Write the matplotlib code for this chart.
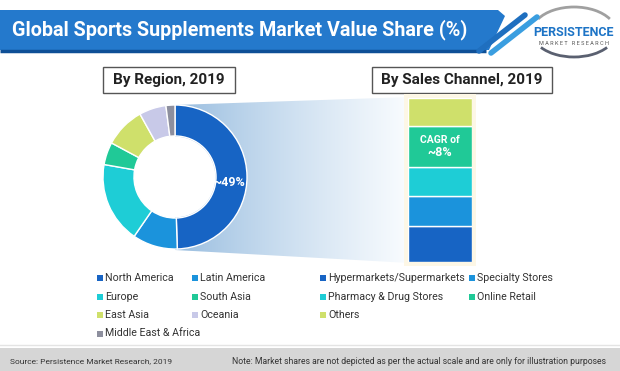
import numpy as np
import matplotlib
matplotlib.use("Agg")
import matplotlib.pyplot as plt
from matplotlib.patches import Polygon, Rectangle, Circle, Arc

plt.rcParams['font.family'] = ['Roboto', 'DejaVu Sans']

# data
regions = ["North America", "Latin America", "Europe", "South Asia",
           "East Asia", "Oceania", "Middle East & Africa"]
region_share = [49, 10, 18, 5, 9, 6, 2]
region_colors = ["#1764c4", "#1b93dc", "#1ecdd6", "#20c997",
                 "#cfe06b", "#c8c9e8", "#8d8f9e"]

channels = ["Hypermarkets/Supermarkets", "Specialty Stores",
            "Pharmacy & Drug Stores", "Online Retail", "Others"]
channel_share = [22, 18, 18, 25, 17]
channel_colors = ["#1764c4", "#1b93dc", "#1ecdd6", "#20c997", "#cfe06b"]

W, H = 620, 371
fig = plt.figure(figsize=(6.2, 3.71), dpi=100)
fig.patch.set_facecolor("white")

bg = fig.add_axes([0, 0, 1, 1])
bg.set_xlim(0, W)
bg.set_ylim(H, 0)
bg.axis("off")

# header banner
banner = Polygon([(0, 10), (498, 10), (505, 16), (489, 50), (0, 50)],
                 closed=True, facecolor="#2479cc", edgecolor="none")
bg.add_patch(banner)
bg.plot([0, 486], [50.5, 50.5], color="#0e4f96", lw=2.5, solid_capstyle="butt")
bg.plot([479, 525], [51, 15], color="#1f6fbf", lw=4, solid_capstyle="round")
bg.plot([491, 537], [53, 17], color="#3a9ee0", lw=4, solid_capstyle="round")
bg.text(12, 30, "Global Sports Supplements Market Value Share (%)", color="white",
        fontsize=14.2, fontweight="bold", va="center", ha="left")

# logo
bg.add_patch(Arc((574, 32), 84, 50, theta1=200, theta2=340, color="#a0a0a0", lw=2))
bg.add_patch(Arc((574, 32), 84, 50, theta1=25, theta2=155, color="#5a6070", lw=2))
bg.text(573, 33, "PERSISTENCE", color="#1d74c6", fontsize=9, fontweight="bold",
        ha="center", va="center")
bg.text(574, 43.5, "M A R K E T   R E S E A R C H", color="#555555", fontsize=4,
        ha="center", va="center")

# sub headers
for x0, x1, label in [(103, 235, "By Region, 2019"), (372, 552, "By Sales Channel, 2019")]:
    bg.add_patch(Rectangle((x0, 67), x1 - x0, 26, facecolor="white",
                           edgecolor="#555555", lw=1))
    bg.text((x0 + x1) / 2, 80, label, fontsize=11, fontweight="bold",
            ha="center", va="center", color="#222222")

# gradient wedge from donut to bar
grad = np.linspace(0, 1, 256) ** 0.8
c0 = np.array([0.58, 0.73, 0.87])
c1 = np.array([0.98, 0.99, 1.0])
img = (c0[None, :] * (1 - grad[:, None]) + c1[None, :] * grad[:, None])[None, :, :]
im = bg.imshow(img, extent=[175, 410, 265, 97], aspect="auto", zorder=1)
clip = Polygon([(175, 105), (410, 97), (410, 263), (175, 250)], closed=True,
               transform=bg.transData)
im.set_clip_path(clip)
bg.add_patch(Rectangle((404, 94), 72, 172, facecolor="#fdf7e6", edgecolor="none", zorder=2))

# donut
cx, cy, r = 175, 177, 72
dax = fig.add_axes([(cx - r) / W, (H - cy - r) / H, 2 * r / W, 2 * r / H])
dax.pie(region_share, colors=region_colors, startangle=90, counterclock=False,
        wedgeprops=dict(width=0.43, edgecolor="white", linewidth=1))
dax.add_patch(Circle((0, 0), 0.56, facecolor="white", edgecolor="none", zorder=0))
dax.set_xlim(-1, 1)
dax.set_ylim(-1, 1)
dax.text(0.76, -0.08, "~49%", color="white", fontsize=9, fontweight="bold",
         ha="center", va="center")

# stacked bar
bax = fig.add_axes([408 / W, (H - 262) / H, 64 / W, 164 / H])
bottom = 0
for share, col in zip(channel_share, channel_colors):
    bax.bar(0, share, bottom=bottom, width=1, color=col, edgecolor="white", linewidth=1)
    bottom += share
bax.set_xlim(-0.5, 0.5)
bax.set_ylim(0, sum(channel_share))
bax.axis("off")
online_mid = sum(channel_share[:3]) + channel_share[3] / 2
bax.text(0, online_mid + 4, "CAGR of", color="white", fontsize=7.5,
         fontweight="bold", ha="center", va="center")
bax.text(0, online_mid - 4, "~8%", color="white", fontsize=9,
         fontweight="bold", ha="center", va="center")

# legends
def legend_block(names, colors, xs, y0, dy):
    for i, (name, col) in enumerate(zip(names, colors)):
        x = xs[i % 2]
        y = y0 + (i // 2) * dy
        bg.add_patch(Rectangle((x, y - 3), 6, 6, facecolor=col, edgecolor="none"))
        bg.text(x + 8, y, name, fontsize=7.7, va="center", ha="left", color="#333333")

legend_block(regions, region_colors, [97, 192], 278, 18.5)
legend_block(channels, channel_colors, [320, 469], 278, 18.5)

# footer
bg.add_patch(Rectangle((0, 348), W, 23, facecolor="#d6d6d6", edgecolor="none"))
bg.plot([0, W], [345, 345], color="#e4e4e4", lw=1)
bg.text(10, 361, "Source: Persistence Market Research, 2019", fontsize=6,
        va="center", ha="left", color="#333333")
bg.text(232, 361, "Note: Market shares are not depicted as per the actual scale and are only for illustration purposes",
        fontsize=6.25, va="center", ha="left", color="#333333")

fig.savefig("out.png", dpi=100)
